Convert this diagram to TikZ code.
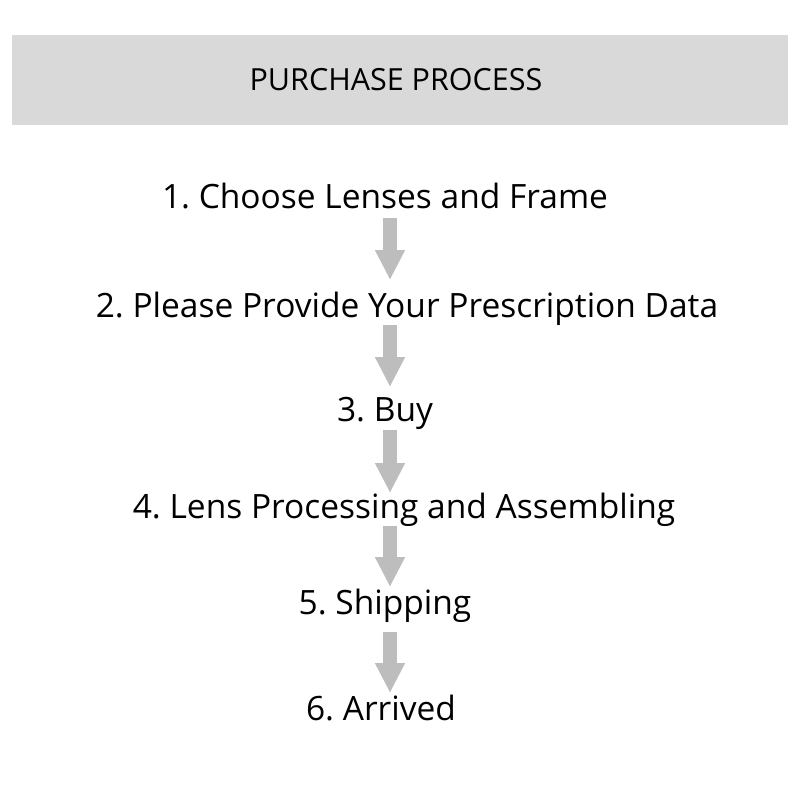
\documentclass[tikz,border=0pt]{standalone}
\usepackage{fontspec}
\setmainfont{Open Sans}
\usetikzlibrary{arrows.meta}
\definecolor{hdr}{HTML}{D9D9D9}
\definecolor{arr}{HTML}{BDBDBD}
\frenchspacing
\begin{document}
\begin{tikzpicture}[x=1pt,y=-1pt,
  steptext/.style={anchor=base,inner sep=0pt,font=\fontsize{33.5}{40}\selectfont\frenchspacing,text=black},
  hdrtext/.style={anchor=base,inner sep=0pt,font=\fontsize{30.5}{36}\selectfont\frenchspacing,text=black},
  blockarrow/.style={draw=arr,line width=14pt,line cap=butt,-{Triangle[width=28pt,length=30pt]}}]
\useasboundingbox (0,0) rectangle (800,800);
\fill[hdr] (12,35) rectangle (788,125);
\node[hdrtext] (title) at (396,90) {PURCHASE PROCESS};
\node[steptext] (s1) at (385,208) {1. Choose Lenses and Frame};
\node[steptext] (s2) at (407,317) {2. Please Provide Your Prescription Data};
\node[steptext] (s3) at (385,421) {3. Buy};
\node[steptext] (s4) at (404,518) {4. Lens Processing and Assembling};
\node[steptext] (s5) at (385,614) {5. Shipping};
\node[steptext] (s6) at (381,720) {6. Arrived};
\coordinate (a1s) at (390,218); \coordinate (a1e) at (390,280);
\coordinate (a2s) at (390,325); \coordinate (a2e) at (390,387);
\coordinate (a3s) at (390,430); \coordinate (a3e) at (390,493);
\coordinate (a4s) at (390,526); \coordinate (a4e) at (390,587);
\coordinate (a5s) at (390,632); \coordinate (a5e) at (390,693);
\draw[blockarrow] (a1s) -- (a1e);
\draw[blockarrow] (a2s) -- (a2e);
\draw[blockarrow] (a3s) -- (a3e);
\draw[blockarrow] (a4s) -- (a4e);
\draw[blockarrow] (a5s) -- (a5e);
\end{tikzpicture}
\end{document}
